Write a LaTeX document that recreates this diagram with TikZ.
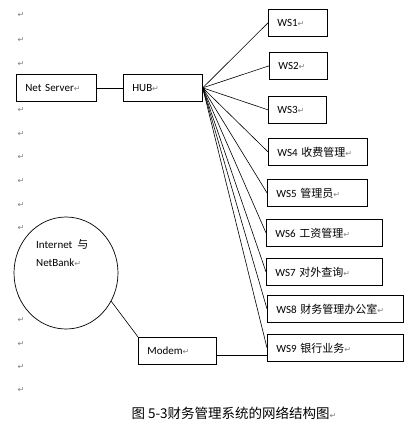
\documentclass[tikz,border=0pt]{standalone}
\usepackage{fontspec}
\setmainfont{Carlito}
\newfontfamily\cjk{Noto Sans CJK SC}
\newfontfamily\symfont{DejaVu Sans}
\usetikzlibrary{shapes.geometric}
\newcommand{\pmark}{{\symfont\fontsize{8}{8}\selectfont\textcolor{gray}{↵}}}

\begin{document}
\begin{tikzpicture}[x=1pt,y=-1pt,
    font=\fontsize{11}{13}\selectfont,
    box/.style={draw, line width=0.7pt, anchor=north west, minimum height=27pt,
      inner xsep=9pt, text width=#1, align=left},
    link/.style={line width=0.6pt},
    pmk/.style={inner sep=0pt}]
  \useasboundingbox (0,0) rectangle (414,432);

  % paragraph marks down the margin
  \foreach \y [count=\i] in {15,40,64,110,134,157,181,205,228,252,275,297,320,344,367,390}
    \node[pmk] (pm\i) at (21,\y) {\pmark};

  % server and hub
  \node[box=62pt] (server) at (16,74) {Net Server\pmark};
  \node[box=61pt] (hub) at (123,74) {HUB\pmark};

  % workstations
  \node[box=41pt] (ws1) at (268,9) {WS1\pmark};
  \node[box=40pt] (ws2) at (269,52) {WS2\pmark};
  \node[box=40pt] (ws3) at (268,96) {WS3\pmark};
  \node[box=81pt] (ws4) at (268,138) {WS4 {\cjk 收费管理}\pmark};
  \node[box=82pt] (ws5) at (267,179) {WS5 {\cjk 管理员}\pmark};
  \node[box=98pt] (ws6) at (266,219) {WS6 {\cjk 工资管理}\pmark};
  \node[box=98pt] (ws7) at (266,258) {WS7 {\cjk 对外查询}\pmark};
  \node[box=118pt] (ws8) at (267,295) {WS8 {\cjk 财务管理办公室}\pmark};
  \node[box=118pt] (ws9) at (267,334) {WS9 {\cjk 银行业务}\pmark};

  % internet and modem
  \node[ellipse, draw, fill=white, line width=0.7pt, minimum width=104pt,
    minimum height=112pt, inner sep=0pt] (net) at (66,273) {};
  \node[anchor=north west, align=left, inner sep=0pt,
    font=\fontsize{11}{18}\selectfont] (nettext) at (36,239)
    {Internet\ \ {\cjk 与}\\NetBank\pmark};
  \node[box=60pt] (modem) at (138,337) {Modem\pmark};

  % connections
  \draw[link] (server.east) -- (hub.west);
  \foreach \n in {1,...,9}
    \draw[link] (hub.east) -- (ws\n.west);
  \draw[link] (net.-32) -- (modem.north west);
  \draw[link] ([yshift=-4pt]modem.east) -- ([yshift=-4pt]modem.east -| ws9.west);

  % caption
  \node[anchor=west, font=\cjk\fontsize{13.5}{15}\selectfont] (caption) at (128,413)
    {图 5-3财务管理系统的网络结构图\pmark};
\end{tikzpicture}
\end{document}
